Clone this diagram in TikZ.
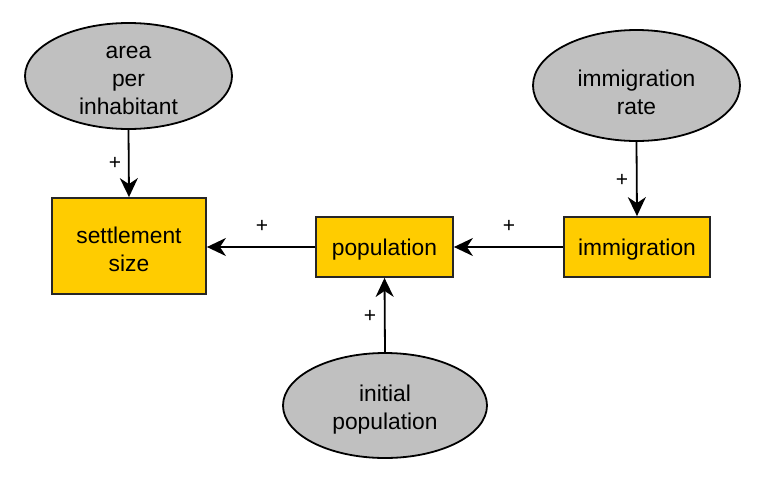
\documentclass[tikz,border=0pt]{standalone}
\usepackage{fontspec}
\setmainfont{Liberation Sans}
\usetikzlibrary{shapes.geometric,arrows.meta}
\begin{document}
\begin{tikzpicture}[x=1pt,y=-1pt,
  stockbox/.style={draw=black!85,line width=1.8pt,fill={rgb,255:red,255;green,204;blue,0},
    rectangle,inner sep=0pt},
  auxell/.style={draw=black,line width=1.8pt,fill={rgb,255:red,192;green,192;blue,192},
    ellipse,inner sep=0pt},
  txt/.style={inner sep=0pt,align=center,font=\fontsize{22.8}{28}\selectfont},
  link/.style={draw=black,line width=1.8pt,-{Stealth[length=19pt,width=18pt,inset=6pt]}},
  sign/.style={font=\fontsize{21}{24}\selectfont,inner sep=0pt}]
\useasboundingbox (0,0) rectangle (764,488);
\node[stockbox,minimum width=154pt,minimum height=96pt] (settle) at (129,246) {};
\node[stockbox,minimum width=137pt,minimum height=60pt] (pop) at (384.5,247) {};
\node[stockbox,minimum width=146pt,minimum height=60pt] (imm) at (637,247) {};
\node[auxell,minimum width=207pt,minimum height=106pt] (area) at (128.5,76) {};
\node[auxell,minimum width=207pt,minimum height=111pt] (rate) at (636.5,85.5) {};
\node[auxell,minimum width=204pt,minimum height=105pt] (init) at (385,405.5) {};
\node[txt] (settleT) at ([yshift=-3pt]settle.center) {settlement\\size};
\node[txt] (popT) at ([yshift=-3pt]pop.center) {population};
\node[txt] (immT) at ([yshift=-3pt]imm.center) {immigration};
\node[txt] (areaT) at ([yshift=-4.5pt]area.center) {area\\per\\inhabitant};
\node[txt] (rateT) at ([yshift=-7pt]rate.center) {immigration\\rate};
\node[txt] (initT) at ([yshift=-4.5pt]init.center) {initial\\population};
\draw[link] (area.south) -- (settle.north);
\draw[link] (pop.west) -- (settle.east |- pop.west);
\draw[link] (imm.west) -- (pop.east);
\draw[link] (rate.south) -- (imm.north);
\draw[link] (init.north) -- (pop.south);
\node[sign] (s1) at (115,163) {+};
\node[sign] (s2) at (262,226) {+};
\node[sign] (s3) at (509,226) {+};
\node[sign] (s4) at (622,180) {+};
\node[sign] (s5) at (370,316) {+};
\end{tikzpicture}
\end{document}
